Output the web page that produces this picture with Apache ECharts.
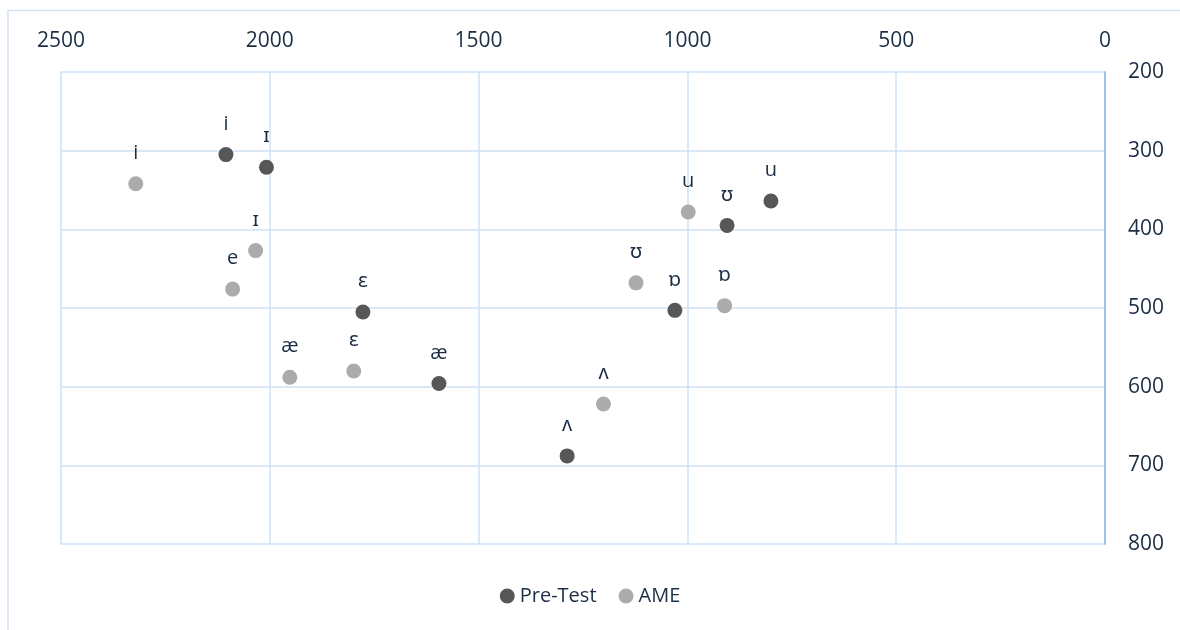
<!DOCTYPE html>
<html>
<head>
<meta charset="utf-8">
<script src="https://cdn.jsdelivr.net/npm/echarts@6/dist/echarts.min.js"></script>
<style>
html,body{margin:0;padding:0;background:#fff;}
#c{width:1180px;height:630px;}
</style>
</head>
<body>
<div id="c"></div>
<script>
// Vowel labels and formant values (x = F2, y = F1)
const preLabels = ['i', 'ɪ', 'ɛ', 'æ', 'ʌ', 'ɒ', 'ʊ', 'u'];
const preF2 = [2105, 2008, 1777, 1595, 1288, 1030, 905, 800];
const preF1 = [305, 321, 505, 596, 688, 503, 395, 364];

const ameLabels = ['i', 'ɪ', 'e', 'æ', 'ɛ', 'ʌ', 'ʊ', 'ɒ', 'u'];
const ameF2 = [2321, 2034, 2089, 1952, 1799, 1201, 1123, 911, 998];
const ameF1 = [342, 427, 476, 588, 580, 622, 468, 497, 378];

const xTicks = [0, 500, 1000, 1500, 2000, 2500];
const yTicks = [200, 300, 400, 500, 600, 700, 800];

const seriesNames = ['Pre-Test', 'AME'];

const txt = '#1b2e45';
const font = '"Open Sans", "Noto Sans", sans-serif';

function build(f2, f1, labels) {
  return f2.map((v, i) => [v, f1[i], labels[i]]);
}

const chart = echarts.init(document.getElementById('c'));

const labelCfg = {
  show: true,
  position: 'top',
  distance: 13,
  formatter: p => p.value[2],
  color: txt,
  fontSize: 20,
  fontFamily: font
};

chart.setOption({
  animation: false,
  backgroundColor: '#fff',
  graphic: [{
    type: 'polyline',
    shape: {points: [[8, 630], [8, 10.5], [1180, 10.5]]},
    style: {stroke: '#d3e2f4', lineWidth: 1.5, fill: null},
    silent: true
  }],
  grid: {left: 61, right: 75, top: 72, bottom: 86},
  legend: {
    data: seriesNames,
    bottom: 19,
    left: 'center',
    itemWidth: 15,
    itemHeight: 15,
    itemGap: 22,
    textStyle: {color: txt, fontSize: 20, fontFamily: font}
  },
  xAxis: {
    type: 'value',
    position: 'top',
    inverse: true,
    min: xTicks[0],
    max: xTicks[xTicks.length - 1],
    interval: 500,
    axisLine: {show: false},
    axisTick: {show: false},
    axisLabel: {color: txt, fontSize: 21, fontFamily: font, margin: 20, formatter: v => String(v)},
    splitLine: {show: true, lineStyle: {color: '#cfe0f3', width: 1.5}}
  },
  yAxis: {
    type: 'value',
    position: 'right',
    inverse: true,
    min: yTicks[0],
    max: yTicks[yTicks.length - 1],
    interval: 100,
    axisLine: {show: true, lineStyle: {color: '#9dc3e8', width: 2}},
    axisTick: {show: false},
    axisLabel: {color: txt, fontSize: 21, fontFamily: font, margin: 23, formatter: v => String(v)},
    splitLine: {show: true, lineStyle: {color: '#cfe0f3', width: 1.5}}
  },
  series: [
    {
      name: seriesNames[0],
      type: 'scatter',
      symbolSize: 15,
      itemStyle: {color: '#575757', opacity: 1},
      label: labelCfg,
      data: build(preF2, preF1, preLabels)
    },
    {
      name: seriesNames[1],
      type: 'scatter',
      symbolSize: 15,
      itemStyle: {color: '#ababab', opacity: 1},
      label: labelCfg,
      data: build(ameF2, ameF1, ameLabels)
    }
  ]
});
</script>
</body>
</html>
